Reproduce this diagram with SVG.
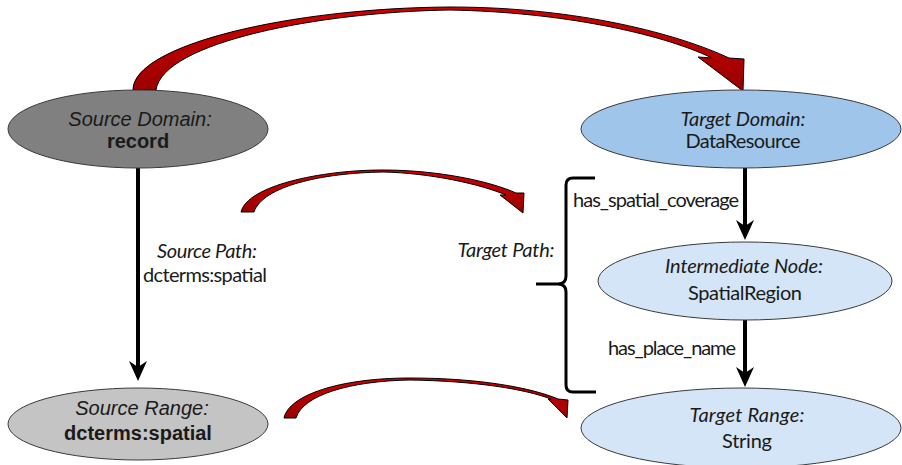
<svg xmlns="http://www.w3.org/2000/svg" width="902" height="465" viewBox="0 0 902 465">
  <defs>
    <style>
      .node { stroke: #3a3a3a; stroke-width: 1; }
      .src-dark { fill: #808080; }
      .src-light { fill: #c4c4c4; }
      .tgt-dark { fill: #9fc6ea; }
      .tgt-light { fill: #d3e5f6; }
      .arial { font-family: "Liberation Sans", Arial, sans-serif; font-size: 20px; fill: #1a1a1a; text-anchor: middle; }
      .cal { font-family: Lato, "Open Sans", sans-serif; font-size: 20px; fill: #1a1a1a; text-anchor: middle; }
      .it { font-style: italic; }
      .bd { font-weight: bold; }
      .edge { stroke: #000; stroke-width: 4; fill: none; }
      .map { fill: url(#redGrad); stroke: #000; stroke-width: 1; stroke-linejoin: miter; }
      .brace { stroke: #000; stroke-width: 3; fill: none; }
    </style>
    <linearGradient id="redGrad" x1="0" y1="0" x2="0" y2="1">
      <stop offset="0" stop-color="#d00000"/>
      <stop offset="1" stop-color="#9a0000"/>
    </linearGradient>
    <marker id="stealth" markerUnits="userSpaceOnUse" viewBox="0 0 20 20" markerWidth="20" markerHeight="20" refX="8" refY="10" orient="auto">
      <path d="M20,10 L0,1 L6,10 L0,19 Z" fill="#000"/>
    </marker>
  </defs>

  <!-- mapping arrows between source and target -->
  <g id="connectors">
    <path class="map" d="M133,90 C133,45 290,8 450,7 C580,7 680,35 729,58 L744,59 L743,91 L698,57 L712,58 C660,33 560,12 450,10 C320,12 163,42 156,90 Z"/>
    <path class="map" d="M241,212 C247,186 320,170 383,170 C440,170 492,182 516,193 L524,193 L523,213 L500,195 L506,195 C480,184 430,173 383,172 C322,173 263,186 254,212 Z"/>
    <path class="map" d="M284,418 C289,395 340,378 410,378 C480,378 532,388 558,399 L568,400 L567,418 L548,399 L551,399 C525,389 475,381 410,380 C350,381 303,395 296,418 Z"/>

    <!-- path edges -->
    <line class="edge" x1="138" y1="168" x2="138" y2="369" marker-end="url(#stealth)"/>
    <line class="edge" x1="745" y1="168" x2="745" y2="228" marker-end="url(#stealth)"/>
    <line class="edge" x1="745" y1="320" x2="745" y2="375" marker-end="url(#stealth)"/>

    <!-- brace grouping the target path -->
    <path class="brace" d="M595,178 H573 Q566,178 566,185 V276 Q566,284 558,284 Q566,284 566,292 V385 Q566,392 573,392 H596 M558,284 H536"/>
  </g>

  <!-- edge labels -->
  <g id="labels">
    <text class="cal it" x="207" y="258" textLength="100">Source Path:</text>
    <text class="cal" x="205" y="282" textLength="124">dcterms:spatial</text>
    <text class="cal it" x="506" y="257" textLength="97">Target Path:</text>
    <text class="cal" x="656" y="207" textLength="166">has_spatial_coverage</text>
    <text class="cal" x="672" y="355" textLength="128">has_place_name</text>
  </g>

  <g id="source-domain">
    <ellipse class="node src-dark" cx="138" cy="129" rx="130" ry="39"/>
    <text class="arial it" x="140" y="126">Source Domain:</text>
    <text class="arial bd" x="138" y="148">record</text>
  </g>

  <g id="source-range">
    <ellipse class="node src-light" cx="138" cy="424" rx="130" ry="36"/>
    <text class="arial it" x="142" y="415">Source Range:</text>
    <text class="arial bd" x="138" y="440">dcterms:spatial</text>
  </g>

  <g id="target-domain">
    <ellipse class="node tgt-dark" cx="741" cy="129" rx="160" ry="39"/>
    <text class="cal it" x="743" y="126" textLength="125">Target Domain:</text>
    <text class="cal" x="743" y="148" textLength="115">DataResource</text>
  </g>

  <g id="intermediate-node">
    <ellipse class="node tgt-light" cx="745" cy="281" rx="147" ry="39"/>
    <text class="cal it" x="744" y="273" textLength="158">Intermediate Node:</text>
    <text class="cal" x="745" y="300" textLength="114">SpatialRegion</text>
  </g>

  <g id="target-range">
    <ellipse class="node tgt-light" cx="741" cy="428" rx="160" ry="40"/>
    <text class="cal it" x="747" y="422" textLength="115">Target Range:</text>
    <text class="cal" x="747" y="448" textLength="50">String</text>
  </g>
</svg>
